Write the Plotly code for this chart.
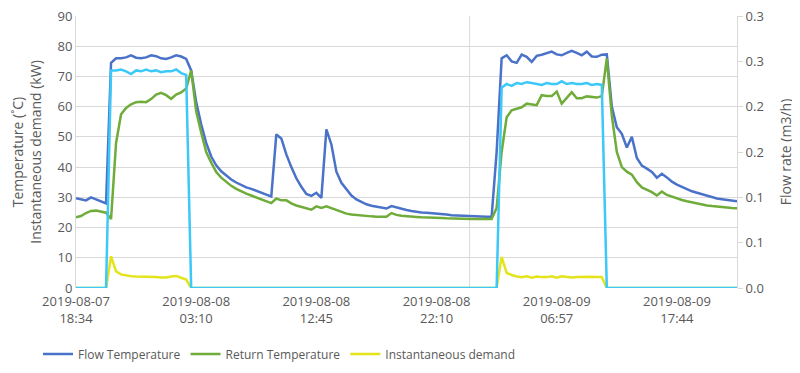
import plotly.graph_objects as go

# sample index (category position) for each reading
flow_temp = [29.7, 29.3, 29.0, 30.0, 29.3, 28.6, 28.0, 74.5, 76.0, 76.0,
             76.3, 77.0, 76.2, 76.0, 76.3, 77.0, 76.7, 76.0, 75.8, 76.3,
             77.0, 76.6, 75.8, 72.0, 61.5, 54.2, 48.0, 43.5, 40.6, 38.6,
             37.1, 35.9, 34.9, 34.0, 33.3, 32.8, 32.1, 31.5, 30.9, 30.3,
             50.8, 49.5, 44.2, 40.0, 36.3, 33.5, 31.1, 30.5, 31.5, 29.8,
             52.5, 47.5, 38.5, 34.8, 32.5, 30.6, 29.3, 28.4, 27.7, 27.2,
             26.9, 26.5, 26.3, 27.1, 26.6, 26.1, 25.8, 25.5, 25.2, 25.0,
             24.9, 24.8, 24.6, 24.4, 24.3, 24.1, 24.0, 23.9, 23.9, 23.8,
             23.7, 23.6, 23.6, 23.6, 45.0, 76.0, 77.0, 75.0, 74.5, 77.2,
             76.5, 74.8, 76.8, 77.2, 77.8, 78.2, 77.3, 77.0, 77.8, 78.5,
             77.8, 77.0, 78.2, 76.6, 76.5, 77.2, 77.3, 60.0, 53.2, 51.0,
             46.5, 50.0, 43.0, 40.5, 39.5, 38.4, 36.5, 37.8, 36.6, 35.2,
             34.2, 33.4, 32.7, 32.0, 31.5, 31.0, 30.5, 30.0, 29.6, 29.4,
             29.1, 28.9, 28.7]

return_temp = [23.4, 23.8, 24.8, 25.5, 25.6, 25.2, 24.9, 22.8, 48.0, 57.5,
               59.6, 60.8, 61.5, 61.6, 61.5, 62.5, 64.0, 64.6, 63.8, 62.6,
               64.0, 64.7, 66.0, 72.0, 58.5, 51.5, 45.0, 41.5, 38.4, 36.5,
               35.0, 33.8, 32.8, 31.9, 31.2, 30.6, 30.0, 29.3, 28.7, 28.1,
               29.6, 29.0, 29.0, 28.0, 27.3, 26.8, 26.3, 25.9, 27.0, 26.5,
               27.0, 26.4, 25.6, 25.0, 24.6, 24.3, 24.1, 23.9, 23.8, 23.7,
               23.6, 23.6, 23.6, 24.8, 24.2, 23.9, 23.7, 23.6, 23.5, 23.4,
               23.4, 23.3, 23.2, 23.2, 23.1, 23.0, 23.0, 22.9, 22.9, 22.8,
               22.8, 22.8, 22.8, 22.8, 26.5, 45.0, 56.5, 58.8, 59.3, 59.8,
               61.0, 60.8, 60.5, 63.8, 63.5, 63.5, 65.0, 61.0, 63.0, 64.8,
               62.8, 62.8, 63.4, 63.2, 63.0, 63.5, 76.0, 57.0, 45.0, 40.0,
               38.5, 37.5, 35.0, 33.3, 32.5, 31.7, 30.6, 31.9, 30.8, 30.2,
               29.5, 29.1, 28.7, 28.3, 27.9, 27.6, 27.3, 27.1, 26.9, 26.8,
               26.6, 26.5, 26.4]

demand_kw = [0, 0, 0, 0, 0, 0, 0, 10.5, 5.5, 4.5,
             4.1, 3.9, 3.8, 3.8, 3.7, 3.7, 3.6, 3.5, 3.5, 3.8,
             4.0, 3.4, 2.8] + [0] * 62 + [
             10.3, 5.0, 4.3, 3.8, 3.6, 3.9, 3.4, 3.8, 3.6, 3.6,
             3.9, 3.4, 3.9, 3.7, 3.5, 3.6, 3.7, 3.6, 3.7, 3.6,
             3.6] + [0] * 27

flow_rate = [0, 0, 0, 0, 0, 0, 0, 0.240, 0.240, 0.241,
             0.239, 0.236, 0.240, 0.239, 0.241, 0.239, 0.240, 0.238, 0.239, 0.239,
             0.241, 0.237, 0.235] + [0] * 62 + [
             0.221, 0.225, 0.223, 0.226, 0.225, 0.227, 0.226, 0.225, 0.224, 0.226,
             0.225, 0.225, 0.228, 0.225, 0.226, 0.225, 0.225, 0.226, 0.224, 0.225,
             0.224] + [0] * 27

idx = list(range(len(flow_temp)))

tick_idx = [0, 24, 48, 72, 96, 120]
tick_labels = ["2019-08-07<br>18:34", "2019-08-08<br>03:10", "2019-08-08<br>12:45",
               "2019-08-08<br>22:10", "2019-08-09<br>06:57", "2019-08-09<br>17:44"]

right_vals = [0, 0.05, 0.10, 0.15, 0.20, 0.25, 0.30]
right_text = ["0.0", "0.1", "0.1", "0.2", "0.2", "0.3", "0.3"]

day_marker = 78.6

FONT = "Open Sans"
GREY = "#595959"

# the page body adds an 8 px offset; figure is sized to fill the rest of the window
W, H = 792, 365

fig = go.Figure()
fig.add_trace(go.Scatter(x=idx, y=flow_temp, name="Flow Temperature", mode="lines",
                         line=dict(color="#4A72C8", width=2.5)))
fig.add_trace(go.Scatter(x=idx, y=return_temp, name="Return Temperature", mode="lines",
                         line=dict(color="#6FAC3A", width=2.5)))
fig.add_trace(go.Scatter(x=idx, y=demand_kw, name="Instantaneous demand", mode="lines",
                         line=dict(color="#E4E41C", width=2.5)))
fig.add_trace(go.Scatter(x=idx, y=flow_rate, name="Flow rate", mode="lines", yaxis="y2",
                         showlegend=False, line=dict(color="#3CC8F8", width=2.5)))

fig.add_shape(type="line", xref="x", yref="paper", x0=day_marker, x1=day_marker, y0=0, y1=1,
              line=dict(color="#D9D9D9", width=1), layer="below")

fig.update_layout(
    width=W, height=H,
    margin=dict(l=68, r=63, t=8, b=85),
    paper_bgcolor="white", plot_bgcolor="white",
    font=dict(family=FONT, size=13, color=GREY),
    showlegend=True,
    legend=dict(orientation="h", xref="container", yref="container", x=30 / W, y=1 - 346 / H,
                xanchor="left", yanchor="middle", font=dict(size=12, color=GREY),
                itemwidth=30, tracegroupgap=0),
    xaxis=dict(range=[0, len(idx) - 1], tickmode="array", tickvals=tick_idx, ticktext=tick_labels,
               showgrid=False, zeroline=False, showline=False, ticks="", automargin=False,
               ticklabelstandoff=4, ticklabeloverflow="allow",
               tickfont=dict(size=13, color=GREY)),
    yaxis=dict(range=[0, 90], dtick=10, showgrid=True, gridcolor="#D9D9D9", gridwidth=1,
               zeroline=False, showline=True, linecolor="#D9D9D9", linewidth=1, automargin=False,
               ticklabeloverflow="allow",
               title=dict(text="Temperature (˚C)<br>Instantaneous demand (kW)",
                          font=dict(size=14, color=GREY), standoff=28),
               tickfont=dict(size=13, color=GREY)),
    yaxis2=dict(range=[0, 0.3], overlaying="y", side="right", tickmode="array",
                tickvals=right_vals, ticktext=right_text, showgrid=False, zeroline=False,
                showline=True, linecolor="#D9D9D9", linewidth=1, ticks="outside",
                ticklen=5, tickcolor="#D9D9D9", automargin=False, ticklabeloverflow="allow",
                title=dict(text="Flow rate (m3/h)", font=dict(size=14, color=GREY), standoff=18),
                tickfont=dict(size=13, color=GREY)),
)

fig.write_html("out.html")
